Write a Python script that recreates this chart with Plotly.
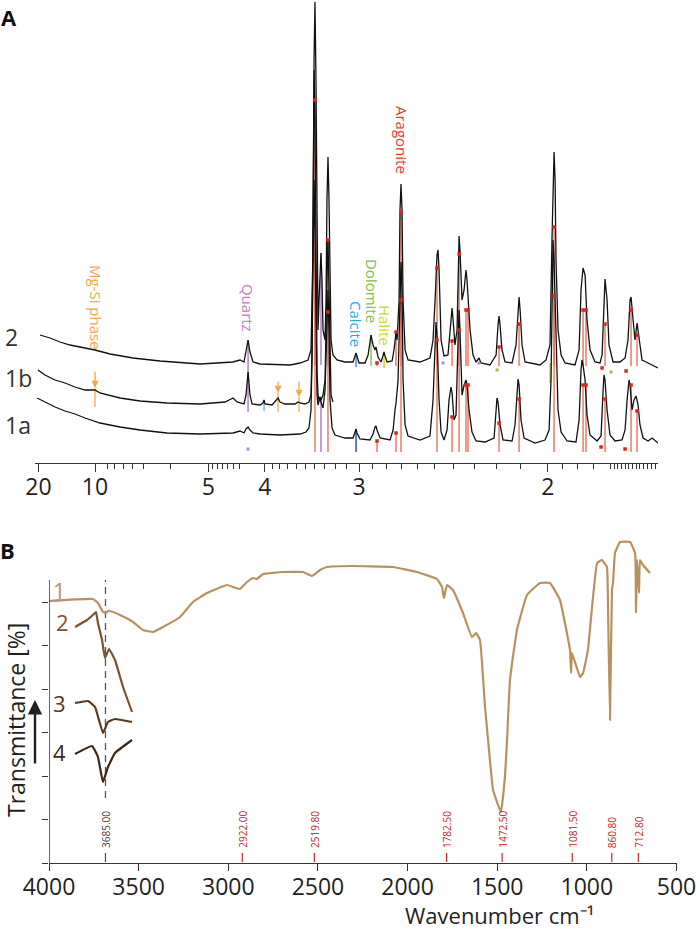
import plotly.graph_objects as go

W, H = 700, 929

# ---------------- Panel A : XRD (x = 1/d in 1/Å, intensity in arbitrary units, stacked) -------------
xrd2_q = [0.0514, 0.0602, 0.0691, 0.0779, 0.0867, 0.1000, 0.1133, 0.1336, 0.1574, 0.1928, 0.2219, 0.2281,
          0.2316, 0.2334, 0.2352, 0.2369, 0.2396, 0.2458, 0.2723, 0.2811, 0.2882, 0.2908, 0.2926, 0.2935,
          0.2943, 0.2952, 0.2961, 0.2970, 0.2979, 0.2988, 0.2996, 0.3005, 0.3014, 0.3032, 0.3041, 0.3049,
          0.3058, 0.3067, 0.3076, 0.3085, 0.3102, 0.3138, 0.3208, 0.3279, 0.3297, 0.3306, 0.3314, 0.3332,
          0.3385, 0.3412, 0.3429, 0.3438, 0.3456, 0.3473, 0.3482, 0.3500, 0.3527, 0.3544, 0.3553, 0.3562,
          0.3580, 0.3624, 0.3641, 0.3659, 0.3668, 0.3686, 0.3694, 0.3703, 0.3712, 0.3721, 0.3739, 0.3765,
          0.3871, 0.3959, 0.3986, 0.4004, 0.4021, 0.4030, 0.4039, 0.4057, 0.4083, 0.4118, 0.4136, 0.4154,
          0.4163, 0.4180, 0.4198, 0.4207, 0.4216, 0.4224, 0.4242, 0.4260, 0.4277, 0.4286, 0.4295, 0.4313,
          0.4339, 0.4366, 0.4392, 0.4410, 0.4489, 0.4543, 0.4560, 0.4569, 0.4578, 0.4595, 0.4622, 0.4684,
          0.4719, 0.4737, 0.4746, 0.4755, 0.4772, 0.4799, 0.4931, 0.4984, 0.5011, 0.5019, 0.5037, 0.5046,
          0.5055, 0.5064, 0.5072, 0.5090, 0.5117, 0.5152, 0.5240, 0.5276, 0.5293, 0.5311, 0.5329, 0.5346,
          0.5373, 0.5417, 0.5461, 0.5479, 0.5496, 0.5505, 0.5523, 0.5540, 0.5576, 0.5638, 0.5682, 0.5708,
          0.5726, 0.5735, 0.5753, 0.5770, 0.5788, 0.5806, 0.5832, 0.5867, 0.5903, 0.5973]
xrd2_i = [128, 125, 121, 118, 116, 113, 109, 105, 102, 99, 101, 103,
          101, 111, 123, 111, 101, 99, 98, 100, 103, 113, 213, 403,
          461, 383, 213, 133, 163, 193, 210, 183, 133, 123, 163, 263,
          306, 263, 163, 123, 108, 103, 101, 101, 107, 110, 107, 100,
          100, 108, 121, 128, 118, 113, 116, 106, 101, 107, 111, 107,
          101, 102, 113, 131, 123, 163, 253, 279, 253, 163, 113, 103,
          101, 105, 123, 163, 208, 213, 193, 123, 107, 108, 128, 155,
          143, 118, 133, 193, 227, 213, 163, 173, 193, 183, 163, 133,
          108, 101, 105, 100, 98, 108, 138, 147, 138, 113, 101, 100,
          118, 158, 166, 153, 118, 101, 98, 103, 113, 118, 225, 283,
          311, 283, 203, 133, 108, 100, 98, 113, 173, 195, 188, 143,
          113, 101, 100, 108, 163, 184, 163, 118, 101, 101, 105, 123,
          163, 166, 143, 123, 140, 123, 103, 101, 99, 95]

xrd1b_q = [0.0496, 0.0558, 0.0647, 0.0735, 0.0823, 0.0912, 0.1000, 0.1044, 0.1221, 0.1398, 0.1636, 0.1928,
           0.2148, 0.2193, 0.2219, 0.2254, 0.2316, 0.2334, 0.2352, 0.2369, 0.2387, 0.2458, 0.2484, 0.2493,
           0.2502, 0.2564, 0.2599, 0.2617, 0.2634, 0.2678, 0.2767, 0.2793, 0.2811, 0.2855, 0.2890, 0.2908,
           0.2917, 0.2926, 0.2935, 0.2943, 0.2952, 0.2961, 0.2970, 0.2979, 0.2988, 0.2996, 0.3014, 0.3032,
           0.3049, 0.3058, 0.3067, 0.3076, 0.3085, 0.3102]
xrd1b_i = [93, 88, 83, 80, 76, 73, 73, 70, 65, 62, 60, 59,
           61, 64, 65, 61, 59, 68, 91, 68, 59, 58, 60, 63,
           59, 58, 63, 65, 61, 59, 59, 61, 60, 59, 61, 68,
           113, 263, 393, 343, 163, 93, 68, 63, 66, 63, 68, 83,
           183, 223, 173, 93, 68, 61]

xrd1a_q = [0.0488, 0.0558, 0.0647, 0.0735, 0.0823, 0.0912, 0.1044, 0.1221, 0.1398, 0.1636, 0.1928, 0.2219,
           0.2281, 0.2316, 0.2334, 0.2352, 0.2369, 0.2396, 0.2458, 0.2634, 0.2811, 0.2864, 0.2890, 0.2908,
           0.2917, 0.2926, 0.2935, 0.2943, 0.2952, 0.2961, 0.2970, 0.2979, 0.2988, 0.2996, 0.3014, 0.3032,
           0.3049, 0.3058, 0.3067, 0.3076, 0.3094, 0.3120, 0.3208, 0.3279, 0.3297, 0.3306, 0.3314, 0.3341,
           0.3429, 0.3456, 0.3473, 0.3482, 0.3491, 0.3518, 0.3606, 0.3633, 0.3650, 0.3659, 0.3677, 0.3694,
           0.3703, 0.3712, 0.3721, 0.3739, 0.3765, 0.3871, 0.3959, 0.3986, 0.4004, 0.4012, 0.4021, 0.4039,
           0.4057, 0.4083, 0.4110, 0.4127, 0.4145, 0.4154, 0.4171, 0.4189, 0.4207, 0.4216, 0.4224, 0.4242,
           0.4260, 0.4277, 0.4286, 0.4304, 0.4330, 0.4366, 0.4445, 0.4525, 0.4543, 0.4551, 0.4560, 0.4578,
           0.4604, 0.4684, 0.4710, 0.4728, 0.4737, 0.4746, 0.4763, 0.4790, 0.4887, 0.4975, 0.5011, 0.5028,
           0.5037, 0.5046, 0.5055, 0.5072, 0.5090, 0.5117, 0.5170, 0.5249, 0.5276, 0.5293, 0.5302, 0.5311,
           0.5329, 0.5346, 0.5373, 0.5435, 0.5470, 0.5488, 0.5496, 0.5505, 0.5523, 0.5549, 0.5594, 0.5655,
           0.5682, 0.5700, 0.5717, 0.5726, 0.5744, 0.5761, 0.5779, 0.5797, 0.5814, 0.5841, 0.5885, 0.5921,
           0.5973]
xrd1a_i = [65, 61, 56, 52, 49, 45, 40, 36, 33, 30, 29, 30,
           32, 30, 34, 36, 33, 30, 29, 28, 29, 31, 35, 53,
           103, 203, 283, 233, 113, 68, 58, 63, 66, 61, 55, 73,
           143, 173, 133, 63, 35, 28, 25, 25, 31, 34, 30, 24,
           23, 29, 36, 37, 33, 25, 23, 33, 53, 60, 83, 163,
           201, 173, 83, 38, 27, 23, 27, 63, 123, 141, 128, 63,
           31, 23, 33, 63, 76, 70, 43, 48, 123, 153, 133, 68,
           78, 83, 78, 53, 31, 22, 21, 25, 53, 65, 61, 38,
           23, 22, 38, 78, 84, 78, 43, 25, 20, 23, 33, 83,
           183, 223, 203, 113, 53, 31, 22, 21, 43, 93, 103, 98,
           83, 48, 28, 22, 27, 73, 88, 83, 53, 28, 22, 23,
           33, 63, 83, 78, 53, 63, 67, 58, 38, 25, 22, 25,
           20]

# reference sticks
arag_q = [0.2943, 0.3058, 0.3491, 0.3659, 0.3703, 0.4021, 0.4154, 0.4216, 0.4277, 0.4295,
          0.4569, 0.4746, 0.5055, 0.5311, 0.5337, 0.5505, 0.5735, 0.5788]
arag_top2 = [363, 223, 100, 131, 251, 195, 122, 209, 153, 153, 116, 139, 236, 153, 153, 139, 153, 128]
arag_top1a = [213, 151, 22, 30, 163, 123, 46, 133, 78, 78, 40, 64, 167, 78, 78, 64, 78, 52]
arag_base2, arag_base1a = 97, 11
arag_extra_q = [0.5470, 0.5682, 0.5479, 0.5691]
arag_extra_i = [16, 14, 95, 92]

quartz_q = [0.2996, 0.2996, 0.2352, 0.2352]
quartz_lo = [98, 11, 51, 90]
quartz_hi = [210, 66, 91, 123]
quartz_dot_q = [0.2352, 0.4074, 0.4392]
quartz_dot_i = [14, 100, 100]

calcite_q = [0.3306, 0.3306, 0.2493]
calcite_lo = [96, 11, 52]
calcite_hi = [110, 34, 63]
calcite_col = ["#5B8FD6", "#3C5FB0", "#7CC8EE"]

dolo_q, dolo_lo, dolo_hi = [0.3438], [97], [128]
dolo_dot_q, dolo_dot_i = [0.4551, 0.5558], [93, 91]
halite_q, halite_lo, halite_hi = [0.3553, 0.5019], [95, 80], [111, 100]
mgsi_q = [0.1000, 0.2617, 0.2802]
mgsi_lo = [56, 51, 51]
mgsi_hi = [75, 70, 66]
mgsi_tail = [93, 83, 83]

d_major = [20, 10, 5, 4, 3, 2]
d_minor = [9, 8.5, 8, 7.5, 7, 6, 4.9, 4.8, 4.7, 4.6, 4.5, 4.4,
           3.9, 3.8, 3.7, 3.6, 3.5, 3.4, 3.3, 3.2, 3.1,
           2.9, 2.8, 2.7, 2.6, 2.5, 2.4, 2.3, 2.2, 2.1,
           1.95, 1.9, 1.85, 1.8, 1.79, 1.78, 1.77, 1.76, 1.75, 1.74, 1.73, 1.72, 1.71, 1.70, 1.69, 1.68]

# ---------------- Panel B : FTIR ----------------
ir1_wn = [4000, 3755, 3727, 3699, 3682, 3671, 3660, 3604, 3531, 3476, 3420, 3364, 3269, 3197, 3119,
          3007, 2974, 2935, 2896, 2862, 2840, 2806, 2695, 2583, 2533, 2516, 2488, 2449, 2321, 2081,
          1947, 1836, 1808, 1797, 1780, 1747, 1691, 1641, 1618, 1596, 1568, 1551, 1523, 1479, 1457,
          1445, 1429, 1390, 1334, 1261, 1206, 1150, 1094, 1088, 1083, 1038, 1021, 994, 943, 916, 888,
          882, 871, 860, 854, 843, 815, 759, 731, 726, 720, 709, 704, 687, 648]
ir1_t = [262, 264, 260, 251, 250, 252, 252, 248, 241, 233, 231, 236, 246, 261, 270,
         278, 276, 274, 281, 285, 284, 289, 291, 291, 287, 289, 293, 296, 297, 296,
         291, 284, 276, 265, 278, 273, 250, 226, 230, 223, 156, 123, 73, 51, 86,
         123, 183, 233, 268, 280, 280, 263, 213, 190, 210, 186, 190, 213, 300, 303, 296,
         256, 143, 273, 280, 310, 321, 321, 310, 250, 303, 270, 303, 298, 290]
ir2_wn = [3855, 3788, 3755, 3738, 3727, 3704, 3688, 3665, 3632, 3587, 3537]
ir2_t = [236, 243, 248, 251, 240, 223, 205, 214, 203, 176, 151]
ir3_wn = [3855, 3782, 3743, 3699, 3671, 3632, 3537]
ir3_t = [160, 162, 156, 130, 141, 144, 141]
ir4_wn = [3855, 3760, 3727, 3699, 3671, 3632, 3537]
ir4_t = [109, 117, 106, 81, 96, 110, 123]
ir_colors = ["#B8925E", "#7B5330", "#5A391A", "#3F2713"]
ir_names = ["1", "2", "3", "4"]
ir_label_pos = [(3944, 273), (3922, 241), (3939, 160), (3939, 111)]

oh_band = 3685
peak_wn = [3685, 2922, 2519.8, 1782.5, 1472.5, 1081.5, 860.8, 712.8]
peak_txt = ["3685.00", "2922.00", "2519.80", "1782.50", "1472.50", "1081.50", "860.80", "712.80"]
peak_col = ["#444444", "#C1272D", "#C1272D", "#C1272D", "#C1272D", "#C1272D", "#C1272D", "#C1272D"]
wn_ticks = [4000, 3500, 3000, 2500, 2000, 1500, 1000, 500]
t_ticks = [0, 43.5, 87, 130.5, 174, 217.5, 261]


def segs(xs, lo, hi):
    X, Y = [], []
    for x, a, b in zip(xs, lo, hi):
        X += [x, x, None]
        Y += [a, b, None]
    return X, Y


def P(x, y):
    return x / W, 1 - y / H


FONT = "Open Sans"
fig = go.Figure()

# --- Panel A sticks
X, Y = segs(arag_q, [arag_base2] * len(arag_q), arag_top2)
X2, Y2 = segs(arag_q, [arag_base1a] * len(arag_q), arag_top1a)
fig.add_trace(go.Scatter(x=X + X2, y=Y + Y2, mode="lines", line=dict(color="rgba(233,110,85,0.85)", width=1.6),
                         hoverinfo="skip", showlegend=False, xaxis="x", yaxis="y"))
X, Y = segs(quartz_q, quartz_lo, quartz_hi)
fig.add_trace(go.Scatter(x=X, y=Y, mode="lines", line=dict(color="#B38BC9", width=1.6),
                         hoverinfo="skip", showlegend=False))
for q, lo, hi, c in zip(calcite_q, calcite_lo, calcite_hi, calcite_col):
    fig.add_trace(go.Scatter(x=[q, q], y=[lo, hi], mode="lines", line=dict(color=c, width=1.6),
                             hoverinfo="skip", showlegend=False))
X, Y = segs(dolo_q, dolo_lo, dolo_hi)
fig.add_trace(go.Scatter(x=X, y=Y, mode="lines", line=dict(color="#9CCB5A", width=1.6),
                         hoverinfo="skip", showlegend=False))
X, Y = segs(halite_q, halite_lo, halite_hi)
fig.add_trace(go.Scatter(x=X, y=Y, mode="lines", line=dict(color="#D9E021", width=1.8),
                         hoverinfo="skip", showlegend=False))
X, Y = segs(mgsi_q, mgsi_lo, mgsi_hi)
fig.add_trace(go.Scatter(x=X, y=Y, mode="lines", line=dict(color="#F9C27A", width=1.8),
                         hoverinfo="skip", showlegend=False))

# --- Panel A patterns
for qs, ii in [(xrd1a_q, xrd1a_i), (xrd1b_q, xrd1b_i), (xrd2_q, xrd2_i)]:
    fig.add_trace(go.Scatter(x=qs, y=ii, mode="lines", line=dict(color="#111111", width=1.3),
                             hoverinfo="skip", showlegend=False, xaxis="x", yaxis="y"))

# --- markers
fig.add_trace(go.Scatter(x=arag_q + arag_q[1:] + arag_extra_q, y=arag_top2 + arag_top1a[1:] + arag_extra_i,
                         mode="markers", marker=dict(color="#E2231A", size=3.5, symbol="square"),
                         hoverinfo="skip", showlegend=False))
fig.add_trace(go.Scatter(x=quartz_dot_q, y=quartz_dot_i, mode="markers",
                         marker=dict(color="#A98BD0", size=3, symbol="square"), hoverinfo="skip", showlegend=False))
fig.add_trace(go.Scatter(x=dolo_dot_q, y=dolo_dot_i, mode="markers",
                         marker=dict(color="#8CC63F", size=3, symbol="square"), hoverinfo="skip", showlegend=False))

# --- Panel B
X, Y = segs([oh_band], [65], [283])
fig.add_trace(go.Scatter(x=X, y=Y, mode="lines", line=dict(color="#555555", width=1.3, dash="7px,5px"),
                         hoverinfo="skip", showlegend=False, xaxis="x2", yaxis="y2"))
for wn, t, c in [(ir1_wn, ir1_t, ir_colors[0]), (ir2_wn, ir2_t, ir_colors[1]),
                 (ir3_wn, ir3_t, ir_colors[2]), (ir4_wn, ir4_t, ir_colors[3])]:
    fig.add_trace(go.Scatter(x=wn, y=t, mode="lines", line=dict(color=c, width=2.2, shape="spline", smoothing=0.3),
                             hoverinfo="skip", showlegend=False, xaxis="x2", yaxis="y2"))
for col in sorted(set(peak_col)):
    sel = [w for w, c in zip(peak_wn, peak_col) if c == col]
    X, Y = segs(sel, [1] * len(sel), [10] * len(sel))
    fig.add_trace(go.Scatter(x=X, y=Y, mode="lines", line=dict(color=col, width=1.2),
                             hoverinfo="skip", showlegend=False, xaxis="x2", yaxis="y2"))

ann = []
# Panel A phase labels
phase_labels = [("Mg-Si phase", 0.1009, 156, "#F7A845"), ("Quartz", 0.2352, 155, "#C27BBF"),
                ("Calcite", 0.3306, 139, "#29A9E1"), ("Dolomite", 0.3447, 172, "#7DC242"),
                ("Halite", 0.3562, 138, "#D0D62A"), ("Aragonite", 0.3712, 323, "#E8392B")]
for t, q, i, c in phase_labels:
    ann.append(dict(text=t, x=q, y=i, xref="x", yref="y", showarrow=False, textangle=90,
                    xanchor="center", yanchor="middle", font=dict(family=FONT, size=15, color=c)))
for q, hd, tl in zip(mgsi_q, mgsi_hi, mgsi_tail):
    ann.append(dict(x=q, y=hd, ax=q, ay=tl, xref="x", yref="y", axref="x", ayref="y", text="", showarrow=True,
                    arrowhead=2, arrowsize=1.1, arrowwidth=1.3, arrowcolor="#F7A845"))
for t, (x, y) in [("2", (3, 337)), ("1b", (3, 378)), ("1a", (3, 425))]:
    px, py = P(x, y)
    ann.append(dict(text=t, x=px, y=py, xref="paper", yref="paper", xanchor="left", yanchor="middle",
                    showarrow=False, font=dict(family=FONT, size=23, color="#333333")))
for t, (x, y) in [("A", (9, 17)), ("B", (7, 550))]:
    px, py = P(x, y)
    ann.append(dict(text="<b>%s</b>" % t, x=px, y=py, xref="paper", yref="paper", showarrow=False,
                    xanchor="center", yanchor="middle", font=dict(family=FONT, size=22, color="#111111")))
# Panel B labels
for t, (w, tt), c in zip(ir_names, ir_label_pos, ir_colors):
    ann.append(dict(text=t, x=w, y=tt, xref="x2", yref="y2", showarrow=False, xanchor="center",
                    yanchor="middle", font=dict(family=FONT, size=22, color=c)))
for w, t, c in zip(peak_wn, peak_txt, peak_col):
    ann.append(dict(text=t, x=w, y=13, xref="x2", yref="y2", showarrow=False, textangle=-90,
                    yanchor="bottom", xanchor="center", font=dict(family=FONT, size=10, color=c)))
px, py = P(16, 720)
ann.append(dict(text="Transmittance [%]", x=px, y=py, xref="paper", yref="paper", showarrow=False,
                textangle=-90, xanchor="center", yanchor="middle",
                font=dict(family=FONT, size=23, color="#231f20")))
px, py = P(35, 700)
ann.append(dict(text="", x=px, y=py, xref="paper", yref="paper", ax=0, ay=65, showarrow=True,
                arrowhead=2, arrowsize=1.2, arrowwidth=2.4, arrowcolor="#231f20"))
px, py = P(499, 915)
ann.append(dict(text="Wavenumber cm⁻¹", x=px, y=py, xref="paper", yref="paper", showarrow=False,
                xanchor="center", yanchor="middle", font=dict(family=FONT, size=22, color="#231f20")))

axis_common = dict(showgrid=False, zeroline=False, showline=True, linecolor="#333333", linewidth=1.3,
                   ticks="outside", tickcolor="#333333", tickwidth=1.2, automargin=False,
                   tickfont=dict(family=FONT, size=23, color="#231f20"))

fig.update_layout(
    width=W, height=H, margin=dict(l=0, r=0, t=0, b=0, pad=0, autoexpand=False),
    paper_bgcolor="white", plot_bgcolor="white", showlegend=False,
    xaxis=dict(domain=[35 / W, 658 / W], range=[0.047, 0.5973], anchor="y",
               tickvals=[1 / d for d in d_major], ticktext=[str(d) for d in d_major], ticklen=8,
               ticklabelstandoff=-5,
               minor=dict(tickmode="array", tickvals=[1 / d for d in d_minor], ticks="outside", ticklen=5,
                          tickcolor="#333333", tickwidth=1, showgrid=False),
               **axis_common),
    yaxis=dict(domain=[1 - 463 / H, 1], range=[0, 463], visible=False, anchor="x"),
    xaxis2=dict(domain=[49 / W, 676.5 / W], range=[4000, 500], anchor="y2", tickvals=wn_ticks, ticklen=7,
                ticklabelstandoff=-4, **axis_common),
    yaxis2=dict(domain=[1 - 863 / H, 1 - 530 / H], range=[0, 333], anchor="x2", showline=False,
                showgrid=False, zeroline=False, ticks="outside", ticklen=6, tickcolor="#333333", tickwidth=1.2,
                tickvals=t_ticks, showticklabels=False, automargin=False),
    annotations=ann,
    shapes=[dict(type="line", xref="x2", yref="y2", x0=4000, x1=4000, y0=0, y1=283,
                 line=dict(color="#333333", width=1.5))],
)

# remove the default page margin so the 700x929 figure fills the window exactly
fig.write_html("out.html", config={"displayModeBar": False},
               post_script="document.body.style.margin='0';document.body.style.overflow='hidden';")
